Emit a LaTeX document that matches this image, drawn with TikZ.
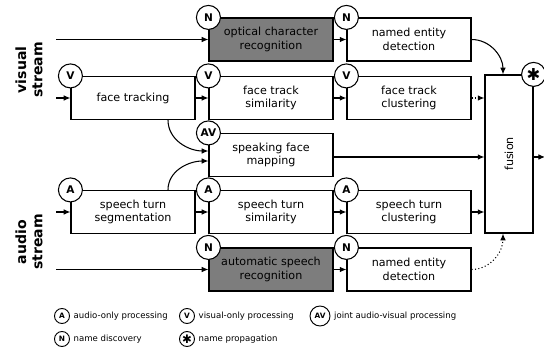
\documentclass[tikz,border=0pt]{standalone}
\usepackage{fontspec}
\setmainfont{DejaVu Sans}
\usetikzlibrary{arrows.meta,calc}

\definecolor{asrgray}{RGB}{125,125,125}

\begin{document}
\begin{tikzpicture}[x=0.03cm,y=-0.03cm,
    box/.style={draw,line width=1pt,minimum width=3.72cm,minimum height=1.29cm,
      align=center,inner sep=1pt,font=\fontsize{9.5}{11.5}\selectfont},
    graybox/.style={box,fill=asrgray},
    badge/.style={draw,circle,fill=white,line width=0.9pt,minimum size=0.72cm,
      inner sep=0pt,font=\fontsize{9}{9}\bfseries\selectfont},
    legbadge/.style={badge,line width=0.8pt,minimum size=0.45cm,font=\fontsize{6.3}{6.3}\bfseries\selectfont},
    legtext/.style={anchor=west,inner sep=3pt,font=\fontsize{7.3}{8}\selectfont},
    flow/.style={-{Latex[length=0.2cm,width=0.17cm]},line width=0.9pt},
    weak/.style={flow,dotted},
    stream/.style={rotate=90,align=center,font=\fontsize{12}{14}\bfseries\selectfont}]
  \useasboundingbox (0,0) rectangle (544,349);

  % stream labels
  \node[stream] (vis) at (29,70) {visual\\stream};
  \node[stream] (aud) at (29,242) {audio\\stream};

  % visual rows
  \node[graybox] (ocr) at (271,39.5) {optical character\\recognition};
  \node[box] (nedv) at (409,39.5) {named entity\\detection};
  \node[box] (ft) at (133,98) {face tracking};
  \node[box] (fts) at (271,98) {face track\\similarity};
  \node[box] (ftc) at (409,98) {face track\\clustering};

  % joint
  \node[box] (sfm) at (271,155) {speaking face\\mapping};

  % audio rows
  \node[box] (sts) at (133,212) {speech turn\\segmentation};
  \node[box] (stsim) at (271,212) {speech turn\\similarity};
  \node[box] (stc) at (409,212) {speech turn\\clustering};
  \node[graybox] (asr) at (271,269.5) {automatic speech\\recognition};
  \node[box] (neda) at (409,269.5) {named entity\\detection};

  \node[box,minimum width=1.44cm,minimum height=4.74cm,
    label={[rotate=90,font=\fontsize{9.5}{11.5}\selectfont]center:fusion}] (fusion) at (509,154) {};

  % badges
  \node[badge] (b-ocr) at (ocr.north west) {N};
  \node[badge] (b-nedv) at (nedv.north west) {N};
  \node[badge] (b-ft) at (ft.north west) {V};
  \node[badge] (b-fts) at (fts.north west) {V};
  \node[badge] (b-ftc) at (ftc.north west) {V};
  \node[badge] (b-sfm) at (sfm.north west) {AV};
  \node[badge] (b-sts) at (sts.north west) {A};
  \node[badge] (b-stsim) at (stsim.north west) {A};
  \node[badge] (b-stc) at (stc.north west) {A};
  \node[badge] (b-asr) at (asr.north west) {N};
  \node[badge] (b-neda) at (neda.north west) {N};
  \node[badge,font=\fontsize{14}{14}\bfseries\selectfont] (b-fus) at (fusion.north east) {✱};

  % inputs
  \coordinate (in-ocr) at (56,39.5);
  \coordinate (in-ft) at (56,98);
  \coordinate (in-sts) at (56,212);
  \coordinate (in-asr) at (56,269.5);
  \coordinate (out) at (545,157);

  \draw[flow] (in-ocr) -- (ocr);
  \draw[flow] (in-ft) -- (ft);
  \draw[flow] (in-sts) -- (sts);
  \draw[flow] (in-asr) -- (asr);

  \draw[flow] (ocr) -- (nedv);
  \draw[flow] (ft) -- (fts);
  \draw[flow] (fts) -- (ftc);
  \draw[weak] (ftc.east) -- (ftc.east -| fusion.west);
  \draw[flow] (sts) -- (stsim);
  \draw[flow] (stsim) -- (stc);
  \draw[flow] (stc.east) -- (stc.east -| fusion.west);
  \draw[flow] (asr) -- (neda);
  \draw[flow] ([yshift=-0.06cm]sfm.east) -- ([yshift=-0.06cm]sfm.east -| fusion.west);

  \draw[flow] ($(ft.south)+(35,0)$) to[out=-90,in=180] ($(sfm.west)+(0,-4)$);
  \draw[flow] ($(sts.north)+(35,0)$) to[out=90,in=180] ($(sfm.west)+(0,6)$);
  \draw[flow] (nedv.east) to[out=0,in=90] ($(fusion.north)+(-6,0)$);
  \draw[weak] (neda.east) to[out=0,in=-90] ($(fusion.south)+(-6,0)$);
  \draw[flow] (fusion.east |- out) -- (out);

  % legend
  \node[legbadge] (lg-a) at (62,316) {A};
  \node[legtext] (lt-a) at (lg-a.east) {audio-only processing};
  \node[legbadge] (lg-v) at (187,316) {V};
  \node[legtext] (lt-v) at (lg-v.east) {visual-only processing};
  \node[legbadge,minimum size=0.6cm] (lg-av) at (320,316) {AV};
  \node[legtext] (lt-av) at (lg-av.east) {joint audio-visual processing};
  \node[legbadge] (lg-n) at (62,339) {N};
  \node[legtext] (lt-n) at (lg-n.east) {name discovery};
  \node[legbadge,font=\fontsize{10}{10}\bfseries\selectfont] (lg-s) at (187,339) {✱};
  \node[legtext] (lt-s) at (lg-s.east) {name propagation};
\end{tikzpicture}
\end{document}
